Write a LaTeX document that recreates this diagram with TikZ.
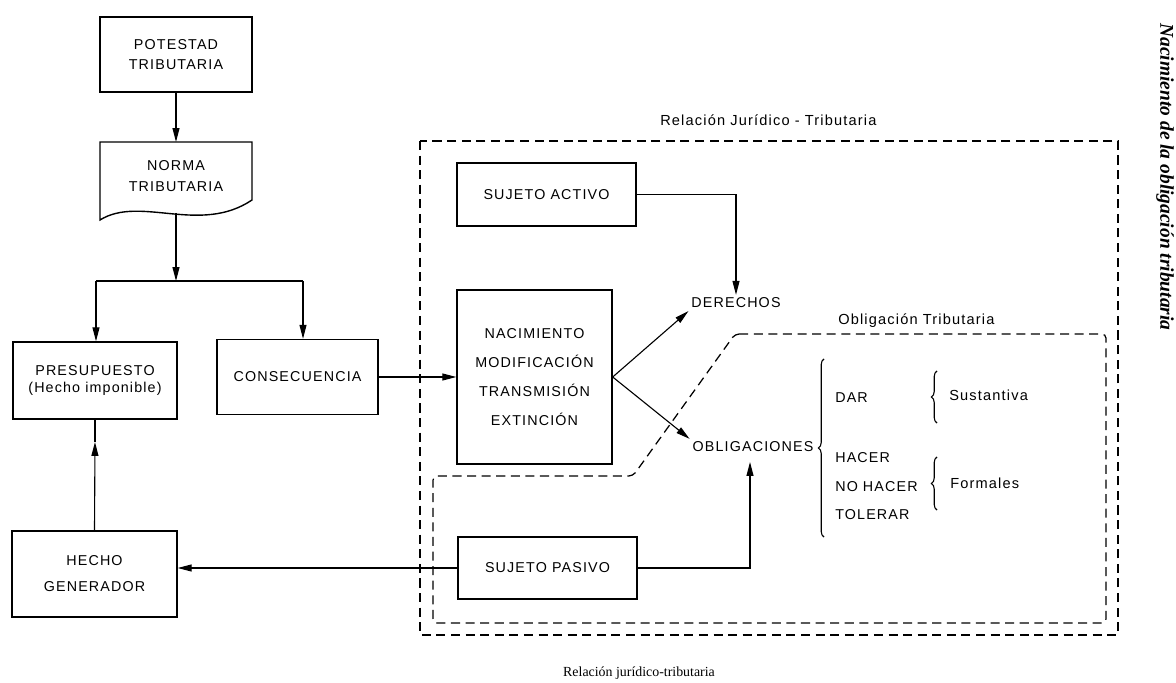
\documentclass[tikz,border=0pt]{standalone}
\usepackage{fontspec}
\setmainfont{Liberation Serif}
\newfontfamily\diagsf{Liberation Sans}[LetterSpace=8]
\usetikzlibrary{arrows.meta,decorations.pathreplacing}
\begin{document}
\begin{tikzpicture}[x=0.72pt,y=-0.72pt,
  font=\diagsf\fontsize{10.3}{12}\selectfont,
  bx/.style={draw, line width=1pt, inner sep=0pt, align=center},
  arr/.style={line width=0.8pt, -{Triangle[length=10pt,width=5pt]}},
  ln/.style={line width=0.8pt},
  dsh/.style={line width=0.9pt, dash pattern=on 6.5pt off 4pt},
  brc/.style={line width=0.8pt, decorate, decoration={brace, amplitude=#1}},
  lbl/.style={font=\diagsf\fontsize{10.5}{12}\selectfont, inner sep=0pt},
  itm/.style={anchor=west, inner sep=0pt},
]
\useasboundingbox (0,0) rectangle (1176,683);

% boxes
\node[bx, minimum width=152*0.72pt, minimum height=75*0.72pt,
      font=\diagsf\fontsize{10.3}{14.4}\selectfont] (pot) at (176,54.5) {POTESTAD\\TRIBUTARIA};
\draw[line width=1pt] (100,220) -- (100,142) -- (252,142) -- (252,200)
   .. controls (200,235) and (140,195) .. (100,220) -- cycle;
\node[align=center, inner sep=0pt, font=\diagsf\fontsize{10.3}{15}\selectfont] (norma) at (176,176) {NORMA\\TRIBUTARIA};
\coordinate (normatop) at (176,142);
\coordinate (normabot) at (176,213);
\coordinate (jn) at (176,281);
\coordinate (jl) at (96,281);
\coordinate (jr) at (303,281);

\node[bx, minimum width=164*0.72pt, minimum height=77*0.72pt,
      font=\diagsf\fontsize{10.3}{12.5}\selectfont] (presu) at (95,380.5) {PRESUPUESTO\\(Hecho imponible)};
\node[bx, minimum width=161*0.72pt, minimum height=75*0.72pt] (cons) at (297.5,377) {CONSECUENCIA};
\node[bx, minimum width=155*0.72pt, minimum height=174*0.72pt,
      font=\diagsf\fontsize{10.3}{20.9}\selectfont] (nac) at (534.5,377) {NACIMIENTO\\MODIFICACIÓN\\TRANSMISIÓN\\EXTINCIÓN};
\node[bx, minimum width=179*0.72pt, minimum height=63*0.72pt] (sa) at (546.5,194.5) {SUJETO ACTIVO};
\node[bx, minimum width=179*0.72pt, minimum height=62*0.72pt] (sp) at (547.5,568) {SUJETO PASIVO};
\node[bx, minimum width=165*0.72pt, minimum height=86*0.72pt,
      font=\diagsf\fontsize{10.3}{18.7}\selectfont] (hecho) at (94.5,574) {HECHO\\GENERADOR};

\node[inner sep=2pt] (der) at (736,303) {DERECHOS};
\node[inner sep=2pt] (obl) at (753,447) {OBLIGACIONES};
\coordinate (obin) at (750,462);
\coordinate (hq) at (95,442);

% connectors
\draw[arr] (pot.south) -- (normatop);
\draw[arr] (normabot) -- (jn);
\draw[ln] (jl) -- (jr);
\draw[arr] (jl) -- (jl |- presu.north);
\draw[arr] (jr) -- (jr |- cons.north);
\draw[arr] (cons.east) -- (nac.west);
\draw[arr] (sa.east) -| (der.north);
\draw[arr] (nac.east) -- (der.south west);
\draw[arr] (nac.east) -- (obl.north west);
\draw[arr] (sp.west) -- (sp.west -| hecho.east);
\draw[arr] (sp.east) -| (obin);
\draw[arr] (hecho.north) -- (hq);
\draw[ln] (hq) -- (presu.south);

% dashed frames
\draw[dsh] (420,141) rectangle (1118,635);
\draw[dsh, rounded corners=3pt] (735,334) -- (1106,334) -- (1106,623) -- (433,623)
   -- (433,476) -- (633,476) -- cycle;
\node[lbl, anchor=west] (rjt) at (660,120) {Relación Jurídico - Tributaria};
\node[lbl, anchor=west] (otl) at (838,321) {Obligación Tributaria};

% obligations list
\draw[brc=4pt] (824,537) -- (824,359);
\node[itm] (dar) at (835,398) {DAR};
\node[itm] (hac) at (835,458) {HACER};
\node[itm] (nohac) at (835,487) {NO HACER};
\node[itm] (tol) at (835,515) {TOLERAR};
\draw[brc=4pt] (937,423) -- (937,371);
\draw[brc=4pt] (937,510) -- (937,457);
\node[lbl, anchor=west] (sus) at (949,395) {Sustantiva};
\node[lbl, anchor=west] (form) at (950,483) {Formales};

% captions
\node[font=\fontsize{10}{12}\selectfont, inner sep=0pt] (cap) at (639,673) {Relación jurídico-tributaria};
\node[font=\bfseries\itshape\fontsize{14}{16}\selectfont, rotate=-90, inner sep=0pt] (side) at (1165,177) {Nacimiento de la obligación tributaria};
\end{tikzpicture}
\end{document}
